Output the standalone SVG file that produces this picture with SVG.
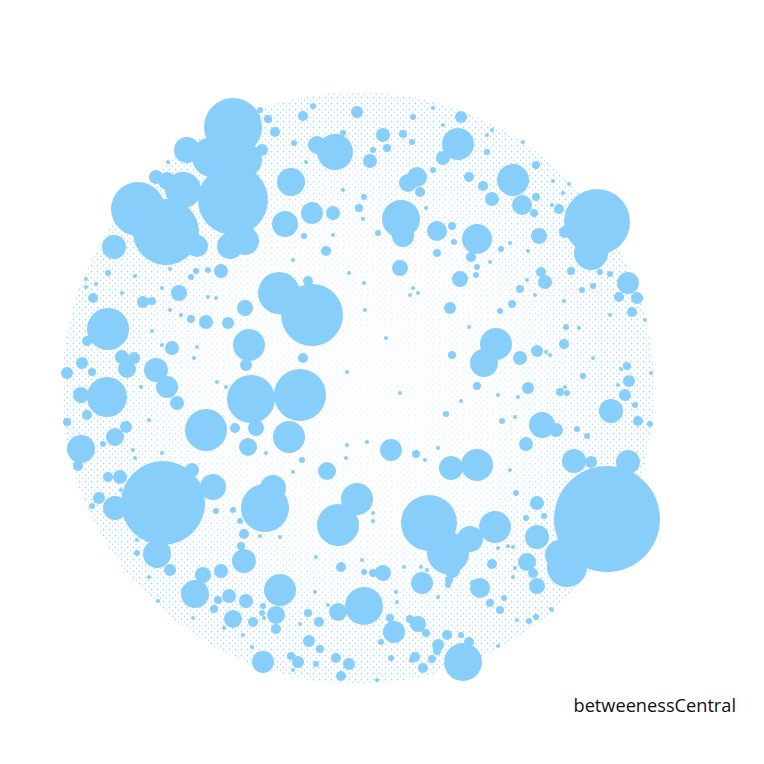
<svg xmlns="http://www.w3.org/2000/svg" width="764" height="764" viewBox="0 0 764 764">
<style>
.n circle{fill:#87CEFA}
.lbl{font-family:"Open Sans","Noto Sans","Liberation Sans",sans-serif;font-size:18.2px;fill:#111}
</style>
<defs>
<pattern id="dust" width="6" height="6" patternUnits="userSpaceOnUse">
<circle cx="1.5" cy="1.5" r="0.9" fill="#87CEFA"/>
<circle cx="4.5" cy="4.3" r="0.7" fill="#87CEFA"/>
</pattern>
<radialGradient id="fade" cx="0.5" cy="0.5" r="0.5">
<stop offset="0" stop-color="#fff" stop-opacity="0.8"/>
<stop offset="0.5" stop-color="#fff" stop-opacity="0.6"/>
<stop offset="0.85" stop-color="#fff" stop-opacity="0.1"/>
<stop offset="1" stop-color="#fff" stop-opacity="0"/>
</radialGradient>
</defs>
<rect width="764" height="764" fill="#fff"/>
<g id="background">
<circle cx="358" cy="388" r="296" fill="url(#dust)" opacity="0.75"/>
<circle cx="358" cy="388" r="297" fill="url(#fade)"/>
</g>
<g id="nodes" class="n">
<g id="n1"><circle cx="233" cy="127" r="29"/></g>
<g id="n2"><circle cx="187" cy="150" r="13"/></g>
<g id="n3"><circle cx="212" cy="157" r="20"/></g>
<g id="n4"><circle cx="245" cy="160" r="17"/></g>
<g id="n5"><circle cx="262" cy="150" r="6"/></g>
<g id="n6"><circle cx="233" cy="200" r="35"/></g>
<g id="n7"><circle cx="138" cy="209" r="27"/></g>
<g id="n8"><circle cx="166" cy="232" r="33"/></g>
<g id="n9"><circle cx="183" cy="190" r="18"/></g>
<g id="n10"><circle cx="167" cy="181" r="9"/></g>
<g id="n11"><circle cx="156" cy="177" r="7"/></g>
<g id="n12"><circle cx="114" cy="247" r="12"/></g>
<g id="n13"><circle cx="197" cy="246" r="11"/></g>
<g id="n14"><circle cx="230" cy="246" r="13"/></g>
<g id="n15"><circle cx="245" cy="241" r="14"/></g>
<g id="n16"><circle cx="335" cy="152" r="18"/></g>
<g id="n17"><circle cx="317" cy="145" r="9"/></g>
<g id="n18"><circle cx="291" cy="182" r="14"/></g>
<g id="n19"><circle cx="357" cy="112" r="6"/></g>
<g id="n20"><circle cx="303" cy="116" r="5"/></g>
<g id="n21"><circle cx="268" cy="119" r="4"/></g>
<g id="n22"><circle cx="275" cy="132" r="5"/></g>
<g id="n23"><circle cx="313" cy="106" r="3"/></g>
<g id="n24"><circle cx="370" cy="161" r="7"/></g>
<g id="n25"><circle cx="383" cy="135" r="7"/></g>
<g id="n26"><circle cx="285" cy="224" r="13"/></g>
<g id="n27"><circle cx="312" cy="213" r="11"/></g>
<g id="n28"><circle cx="333" cy="213" r="7"/></g>
<g id="n29"><circle cx="359" cy="208" r="4"/></g>
<g id="n30"><circle cx="364" cy="197" r="3"/></g>
<g id="n31"><circle cx="378" cy="233" r="3"/></g>
<g id="n32"><circle cx="326" cy="251" r="5"/></g>
<g id="n33"><circle cx="304" cy="236" r="3"/></g>
<g id="n34"><circle cx="221" cy="271" r="7"/></g>
<g id="n35"><circle cx="208" cy="270" r="3"/></g>
<g id="n36"><circle cx="196" cy="271" r="3"/></g>
<g id="n37"><circle cx="191" cy="277" r="3"/></g>
<g id="n38"><circle cx="279" cy="293" r="21"/></g>
<g id="n39"><circle cx="312" cy="315" r="31"/></g>
<g id="n40"><circle cx="308" cy="281" r="5"/></g>
<g id="n41"><circle cx="179" cy="293" r="8"/></g>
<g id="n42"><circle cx="108" cy="273" r="3"/></g>
<g id="n43"><circle cx="93" cy="298" r="5"/></g>
<g id="n44"><circle cx="143" cy="302" r="6"/></g>
<g id="n45"><circle cx="152" cy="301" r="4"/></g>
<g id="n46"><circle cx="108" cy="329" r="21"/></g>
<g id="n47"><circle cx="87" cy="341" r="5"/></g>
<g id="n48"><circle cx="67" cy="373" r="6"/></g>
<g id="n49"><circle cx="82" cy="363" r="6"/></g>
<g id="n50"><circle cx="92" cy="372" r="4"/></g>
<g id="n51"><circle cx="122" cy="357" r="7"/></g>
<g id="n52"><circle cx="134" cy="358" r="6"/></g>
<g id="n53"><circle cx="127" cy="369" r="9"/></g>
<g id="n54"><circle cx="156" cy="370" r="12"/></g>
<g id="n55"><circle cx="172" cy="348" r="7"/></g>
<g id="n56"><circle cx="167" cy="387" r="11"/></g>
<g id="n57"><circle cx="107" cy="397" r="20"/></g>
<g id="n58"><circle cx="245" cy="308" r="8"/></g>
<g id="n59"><circle cx="249" cy="345" r="16"/></g>
<g id="n60"><circle cx="246" cy="365" r="6"/></g>
<g id="n61"><circle cx="303" cy="358" r="5"/></g>
<g id="n62"><circle cx="206" cy="322" r="7"/></g>
<g id="n63"><circle cx="228" cy="323" r="6"/></g>
<g id="n64"><circle cx="191" cy="319" r="4"/></g>
<g id="n65"><circle cx="251" cy="399" r="24"/></g>
<g id="n66"><circle cx="300" cy="395" r="26"/></g>
<g id="n67"><circle cx="260" cy="110" r="3"/></g>
<g id="n68"><circle cx="343" cy="133" r="3"/></g>
<g id="n69"><circle cx="461" cy="117" r="6"/></g>
<g id="n70"><circle cx="458" cy="144" r="16"/></g>
<g id="n71"><circle cx="443" cy="158" r="7"/></g>
<g id="n72"><circle cx="373" cy="150" r="3"/></g>
<g id="n73"><circle cx="387" cy="148" r="4"/></g>
<g id="n74"><circle cx="403" cy="134" r="4"/></g>
<g id="n75"><circle cx="413" cy="117" r="3"/></g>
<g id="n76"><circle cx="412" cy="142" r="3"/></g>
<g id="n77"><circle cx="417" cy="177" r="10"/></g>
<g id="n78"><circle cx="408" cy="183" r="9"/></g>
<g id="n79"><circle cx="420" cy="192" r="5"/></g>
<g id="n80"><circle cx="433" cy="170" r="3"/></g>
<g id="n81"><circle cx="401" cy="219" r="19"/></g>
<g id="n82"><circle cx="403" cy="236" r="11"/></g>
<g id="n83"><circle cx="437" cy="231" r="10"/></g>
<g id="n84"><circle cx="452" cy="226" r="4"/></g>
<g id="n85"><circle cx="454" cy="242" r="3"/></g>
<g id="n86"><circle cx="437" cy="253" r="4"/></g>
<g id="n87"><circle cx="477" cy="239" r="15"/></g>
<g id="n88"><circle cx="471" cy="257" r="5"/></g>
<g id="n89"><circle cx="400" cy="268" r="8"/></g>
<g id="n90"><circle cx="460" cy="279" r="8"/></g>
<g id="n91"><circle cx="476" cy="275" r="3"/></g>
<g id="n92"><circle cx="477" cy="267" r="3"/></g>
<g id="n93"><circle cx="450" cy="308" r="6"/></g>
<g id="n94"><circle cx="501" cy="249" r="3"/></g>
<g id="n95"><circle cx="469" cy="177" r="5"/></g>
<g id="n96"><circle cx="483" cy="186" r="5"/></g>
<g id="n97"><circle cx="492" cy="199" r="7"/></g>
<g id="n98"><circle cx="487" cy="152" r="3"/></g>
<g id="n99"><circle cx="513" cy="180" r="16"/></g>
<g id="n100"><circle cx="522" cy="205" r="10"/></g>
<g id="n101"><circle cx="536" cy="197" r="4"/></g>
<g id="n102"><circle cx="534" cy="213" r="4"/></g>
<g id="n103"><circle cx="536" cy="165" r="4"/></g>
<g id="n104"><circle cx="559" cy="209" r="5"/></g>
<g id="n105"><circle cx="597" cy="222" r="33"/></g>
<g id="n106"><circle cx="591" cy="253" r="17"/></g>
<g id="n107"><circle cx="565" cy="232" r="6"/></g>
<g id="n108"><circle cx="539" cy="236" r="8"/></g>
<g id="n109"><circle cx="571" cy="271" r="4"/></g>
<g id="n110"><circle cx="600" cy="272" r="3"/></g>
<g id="n111"><circle cx="610" cy="274" r="3"/></g>
<g id="n112"><circle cx="628" cy="283" r="11"/></g>
<g id="n113"><circle cx="619" cy="297" r="5"/></g>
<g id="n114"><circle cx="637" cy="298" r="6"/></g>
<g id="n115"><circle cx="632" cy="312" r="5"/></g>
<g id="n116"><circle cx="645" cy="320" r="2"/></g>
<g id="n117"><circle cx="593" cy="286" r="3"/></g>
<g id="n118"><circle cx="582" cy="290" r="3"/></g>
<g id="n119"><circle cx="545" cy="282" r="7"/></g>
<g id="n120"><circle cx="541" cy="272" r="5"/></g>
<g id="n121"><circle cx="520" cy="289" r="4"/></g>
<g id="n122"><circle cx="512" cy="304" r="4"/></g>
<g id="n123"><circle cx="535" cy="295" r="2"/></g>
<g id="n124"><circle cx="564" cy="301" r="2"/></g>
<g id="n125"><circle cx="500" cy="311" r="3"/></g>
<g id="n126"><circle cx="496" cy="344" r="16"/></g>
<g id="n127"><circle cx="484" cy="363" r="14"/></g>
<g id="n128"><circle cx="520" cy="358" r="7"/></g>
<g id="n129"><circle cx="537" cy="351" r="6"/></g>
<g id="n130"><circle cx="564" cy="344" r="5"/></g>
<g id="n131"><circle cx="566" cy="327" r="3"/></g>
<g id="n132"><circle cx="452" cy="355" r="4"/></g>
<g id="n133"><circle cx="528" cy="388" r="6"/></g>
<g id="n134"><circle cx="477" cy="386" r="4"/></g>
<g id="n135"><circle cx="627" cy="366" r="4"/></g>
<g id="n136"><circle cx="629" cy="381" r="6"/></g>
<g id="n137"><circle cx="583" cy="376" r="3"/></g>
<g id="n138"><circle cx="651" cy="373" r="2"/></g>
<g id="n139"><circle cx="386" cy="338" r="2"/></g>
<g id="n140"><circle cx="487" cy="135" r="2"/></g>
<g id="n141"><circle cx="443" cy="125" r="2"/></g>
<g id="n142"><circle cx="81" cy="395" r="8"/></g>
<g id="n143"><circle cx="87" cy="415" r="5"/></g>
<g id="n144"><circle cx="177" cy="403" r="7"/></g>
<g id="n145"><circle cx="67" cy="422" r="4"/></g>
<g id="n146"><circle cx="256" cy="428" r="8"/></g>
<g id="n147"><circle cx="206" cy="430" r="21"/></g>
<g id="n148"><circle cx="126" cy="427" r="6"/></g>
<g id="n149"><circle cx="115" cy="437" r="9"/></g>
<g id="n150"><circle cx="103" cy="444" r="3"/></g>
<g id="n151"><circle cx="81" cy="449" r="14"/></g>
<g id="n152"><circle cx="78" cy="466" r="5"/></g>
<g id="n153"><circle cx="235" cy="428" r="5"/></g>
<g id="n154"><circle cx="248" cy="447" r="9"/></g>
<g id="n155"><circle cx="289" cy="437" r="16"/></g>
<g id="n156"><circle cx="302" cy="460" r="3"/></g>
<g id="n157"><circle cx="327" cy="471" r="9"/></g>
<g id="n158"><circle cx="391" cy="450" r="11"/></g>
<g id="n159"><circle cx="163" cy="503" r="42"/></g>
<g id="n160"><circle cx="213" cy="487" r="13"/></g>
<g id="n161"><circle cx="192" cy="470" r="7"/></g>
<g id="n162"><circle cx="157" cy="554" r="14"/></g>
<g id="n163"><circle cx="115" cy="508" r="12"/></g>
<g id="n164"><circle cx="120" cy="477" r="7"/></g>
<g id="n165"><circle cx="108" cy="477" r="5"/></g>
<g id="n166"><circle cx="99" cy="498" r="6"/></g>
<g id="n167"><circle cx="92" cy="506" r="3"/></g>
<g id="n168"><circle cx="137" cy="553" r="3"/></g>
<g id="n169"><circle cx="170" cy="570" r="6"/></g>
<g id="n170"><circle cx="265" cy="508" r="24"/></g>
<g id="n171"><circle cx="273" cy="488" r="13"/></g>
<g id="n172"><circle cx="244" cy="534" r="5"/></g>
<g id="n173"><circle cx="241" cy="546" r="4"/></g>
<g id="n174"><circle cx="244" cy="561" r="12"/></g>
<g id="n175"><circle cx="240" cy="521" r="3"/></g>
<g id="n176"><circle cx="233" cy="510" r="3"/></g>
<g id="n177"><circle cx="216" cy="511" r="3"/></g>
<g id="n178"><circle cx="338" cy="525" r="21"/></g>
<g id="n179"><circle cx="357" cy="499" r="16"/></g>
<g id="n180"><circle cx="341" cy="567" r="5"/></g>
<g id="n181"><circle cx="373" cy="521" r="2"/></g>
<g id="n182"><circle cx="364" cy="572" r="3"/></g>
<g id="n183"><circle cx="383" cy="573" r="8"/></g>
<g id="n184"><circle cx="373" cy="573" r="4"/></g>
<g id="n185"><circle cx="280" cy="590" r="16"/></g>
<g id="n186"><circle cx="276" cy="615" r="9"/></g>
<g id="n187"><circle cx="276" cy="629" r="5"/></g>
<g id="n188"><circle cx="221" cy="571" r="7"/></g>
<g id="n189"><circle cx="203" cy="575" r="8"/></g>
<g id="n190"><circle cx="195" cy="594" r="14"/></g>
<g id="n191"><circle cx="229" cy="596" r="7"/></g>
<g id="n192"><circle cx="218" cy="600" r="4"/></g>
<g id="n193"><circle cx="214" cy="609" r="4"/></g>
<g id="n194"><circle cx="233" cy="619" r="9"/></g>
<g id="n195"><circle cx="246" cy="601" r="7"/></g>
<g id="n196"><circle cx="253" cy="622" r="5"/></g>
<g id="n197"><circle cx="263" cy="606" r="3"/></g>
<g id="n198"><circle cx="262" cy="613" r="3"/></g>
<g id="n199"><circle cx="264" cy="618" r="2"/></g>
<g id="n200"><circle cx="263" cy="662" r="11"/></g>
<g id="n201"><circle cx="309" cy="641" r="6"/></g>
<g id="n202"><circle cx="320" cy="649" r="4"/></g>
<g id="n203"><circle cx="308" cy="613" r="4"/></g>
<g id="n204"><circle cx="319" cy="622" r="5"/></g>
<g id="n205"><circle cx="298" cy="662" r="6"/></g>
<g id="n206"><circle cx="291" cy="656" r="4"/></g>
<g id="n207"><circle cx="316" cy="664" r="3"/></g>
<g id="n208"><circle cx="336" cy="658" r="5"/></g>
<g id="n209"><circle cx="349" cy="664" r="6"/></g>
<g id="n210"><circle cx="341" cy="676" r="5"/></g>
<g id="n211"><circle cx="338" cy="612" r="9"/></g>
<g id="n212"><circle cx="364" cy="606" r="19"/></g>
<g id="n213"><circle cx="394" cy="632" r="11"/></g>
<g id="n214"><circle cx="381" cy="642" r="3"/></g>
<g id="n215"><circle cx="377" cy="680" r="2"/></g>
<g id="n216"><circle cx="315" cy="592" r="2"/></g>
<g id="n217"><circle cx="293" cy="472" r="2"/></g>
<g id="n218"><circle cx="266" cy="453" r="2"/></g>
<g id="n219"><circle cx="280" cy="537" r="2"/></g>
<g id="n220"><circle cx="260" cy="536" r="2"/></g>
<g id="n221"><circle cx="560" cy="392" r="4"/></g>
<g id="n222"><circle cx="567" cy="393" r="3"/></g>
<g id="n223"><circle cx="416" cy="454" r="4"/></g>
<g id="n224"><circle cx="451" cy="468" r="12"/></g>
<g id="n225"><circle cx="477" cy="465" r="16"/></g>
<g id="n226"><circle cx="446" cy="414" r="3"/></g>
<g id="n227"><circle cx="502" cy="421" r="3"/></g>
<g id="n228"><circle cx="526" cy="444" r="7"/></g>
<g id="n229"><circle cx="542" cy="425" r="13"/></g>
<g id="n230"><circle cx="556" cy="430" r="7"/></g>
<g id="n231"><circle cx="611" cy="411" r="12"/></g>
<g id="n232"><circle cx="625" cy="395" r="6"/></g>
<g id="n233"><circle cx="635" cy="405" r="3"/></g>
<g id="n234"><circle cx="638" cy="421" r="5"/></g>
<g id="n235"><circle cx="650" cy="424" r="3"/></g>
<g id="n236"><circle cx="587" cy="436" r="3"/></g>
<g id="n237"><circle cx="577" cy="429" r="3"/></g>
<g id="n238"><circle cx="574" cy="461" r="12"/></g>
<g id="n239"><circle cx="591" cy="462" r="6"/></g>
<g id="n240"><circle cx="628" cy="462" r="12"/></g>
<g id="n241"><circle cx="607" cy="519" r="53"/></g>
<g id="n242"><circle cx="567" cy="567" r="20"/></g>
<g id="n243"><circle cx="560" cy="555" r="15"/></g>
<g id="n244"><circle cx="429" cy="523" r="28"/></g>
<g id="n245"><circle cx="448" cy="553" r="21"/></g>
<g id="n246"><circle cx="470" cy="539" r="13"/></g>
<g id="n247"><circle cx="495" cy="527" r="16"/></g>
<g id="n248"><circle cx="452" cy="570" r="8"/></g>
<g id="n249"><circle cx="449" cy="580" r="4"/></g>
<g id="n250"><circle cx="448" cy="585" r="3"/></g>
<g id="n251"><circle cx="537" cy="537" r="12"/></g>
<g id="n252"><circle cx="527" cy="562" r="9"/></g>
<g id="n253"><circle cx="533" cy="573" r="5"/></g>
<g id="n254"><circle cx="537" cy="586" r="8"/></g>
<g id="n255"><circle cx="537" cy="503" r="7"/></g>
<g id="n256"><circle cx="544" cy="516" r="3"/></g>
<g id="n257"><circle cx="526" cy="518" r="3"/></g>
<g id="n258"><circle cx="516" cy="493" r="3"/></g>
<g id="n259"><circle cx="422" cy="583" r="11"/></g>
<g id="n260"><circle cx="492" cy="564" r="5"/></g>
<g id="n261"><circle cx="480" cy="588" r="10"/></g>
<g id="n262"><circle cx="473" cy="583" r="3"/></g>
<g id="n263"><circle cx="490" cy="603" r="4"/></g>
<g id="n264"><circle cx="500" cy="610" r="4"/></g>
<g id="n265"><circle cx="504" cy="598" r="3"/></g>
<g id="n266"><circle cx="463" cy="662" r="19"/></g>
<g id="n267"><circle cx="469" cy="642" r="5"/></g>
<g id="n268"><circle cx="390" cy="618" r="4"/></g>
<g id="n269"><circle cx="418" cy="624" r="8"/></g>
<g id="n270"><circle cx="410" cy="619" r="4"/></g>
<g id="n271"><circle cx="426" cy="633" r="4"/></g>
<g id="n272"><circle cx="447" cy="635" r="5"/></g>
<g id="n273"><circle cx="438" cy="645" r="6"/></g>
<g id="n274"><circle cx="437" cy="651" r="4"/></g>
<g id="n275"><circle cx="461" cy="635" r="3"/></g>
<g id="n276"><circle cx="432" cy="659" r="4"/></g>
<g id="n277"><circle cx="423" cy="668" r="5"/></g>
<g id="n278"><circle cx="415" cy="657" r="5"/></g>
<g id="n279"><circle cx="412" cy="660" r="3"/></g>
<g id="n280"><circle cx="391" cy="658" r="3"/></g>
<g id="n281"><circle cx="536" cy="617" r="3"/></g>
<g id="n282"><circle cx="529" cy="621" r="3"/></g>
<g id="n283"><circle cx="551" cy="609" r="2"/></g>
<g id="n284"><circle cx="498" cy="646" r="2"/></g>
<g id="n285"><circle cx="363" cy="219" r="2"/></g>
<g id="n286"><circle cx="293" cy="260" r="2"/></g>
<g id="n287"><circle cx="306" cy="162" r="2"/></g>
<g id="n288"><circle cx="294" cy="143" r="3"/></g>
<g id="n289"><circle cx="168" cy="162" r="2"/></g>
<g id="n290"><circle cx="170" cy="269" r="2"/></g>
<g id="n291"><circle cx="162" cy="288" r="2"/></g>
<g id="n292"><circle cx="181" cy="315" r="2"/></g>
<g id="n293"><circle cx="197" cy="347" r="2"/></g>
<g id="n294"><circle cx="86" cy="279" r="2"/></g>
<g id="n295"><circle cx="86" cy="287" r="2"/></g>
<g id="n296"><circle cx="96" cy="284" r="2"/></g>
<g id="n297"><circle cx="122" cy="293" r="2"/></g>
<g id="n298"><circle cx="135" cy="276" r="2"/></g>
<g id="n299"><circle cx="170" cy="310" r="2"/></g>
<g id="n300"><circle cx="208" cy="297" r="2"/></g>
<g id="n301"><circle cx="216" cy="298" r="2"/></g>
<g id="n302"><circle cx="194" cy="358" r="2"/></g>
<g id="n303"><circle cx="217" cy="382" r="2"/></g>
<g id="n304"><circle cx="226" cy="387" r="2"/></g>
<g id="n305"><circle cx="152" cy="331" r="2"/></g>
<g id="n306"><circle cx="162" cy="345" r="2"/></g>
<g id="n307"><circle cx="333" cy="235" r="2"/></g>
<g id="n308"><circle cx="343" cy="190" r="2"/></g>
<g id="n309"><circle cx="349" cy="273" r="2"/></g>
<g id="n310"><circle cx="365" cy="310" r="2"/></g>
<g id="n311"><circle cx="347" cy="372" r="2"/></g>
<g id="n312"><circle cx="364" cy="283" r="2"/></g>
<g id="n313"><circle cx="433" cy="108" r="2"/></g>
<g id="n314"><circle cx="492" cy="130" r="2"/></g>
<g id="n315"><circle cx="523" cy="142" r="2"/></g>
<g id="n316"><circle cx="553" cy="181" r="2"/></g>
<g id="n317"><circle cx="569" cy="184" r="2"/></g>
<g id="n318"><circle cx="552" cy="205" r="2"/></g>
<g id="n319"><circle cx="563" cy="193" r="2"/></g>
<g id="n320"><circle cx="510" cy="243" r="2"/></g>
<g id="n321"><circle cx="528" cy="251" r="2"/></g>
<g id="n322"><circle cx="490" cy="262" r="2"/></g>
<g id="n323"><circle cx="527" cy="280" r="2"/></g>
<g id="n324"><circle cx="413" cy="288" r="2"/></g>
<g id="n325"><circle cx="418" cy="293" r="2"/></g>
<g id="n326"><circle cx="410" cy="295" r="2"/></g>
<g id="n327"><circle cx="426" cy="208" r="2"/></g>
<g id="n328"><circle cx="469" cy="327" r="2"/></g>
<g id="n329"><circle cx="546" cy="352" r="2"/></g>
<g id="n330"><circle cx="550" cy="355" r="2"/></g>
<g id="n331"><circle cx="579" cy="328" r="2"/></g>
<g id="n332"><circle cx="593" cy="358" r="2"/></g>
<g id="n333"><circle cx="610" cy="315" r="2"/></g>
<g id="n334"><circle cx="621" cy="369" r="2"/></g>
<g id="n335"><circle cx="618" cy="385" r="2"/></g>
<g id="n336"><circle cx="565" cy="387" r="2"/></g>
<g id="n337"><circle cx="141" cy="387" r="2"/></g>
<g id="n338"><circle cx="149" cy="420" r="2"/></g>
<g id="n339"><circle cx="133" cy="450" r="2"/></g>
<g id="n340"><circle cx="135" cy="458" r="2"/></g>
<g id="n341"><circle cx="162" cy="453" r="2"/></g>
<g id="n342"><circle cx="121" cy="490" r="2"/></g>
<g id="n343"><circle cx="137" cy="540" r="2"/></g>
<g id="n344"><circle cx="149" cy="577" r="2"/></g>
<g id="n345"><circle cx="158" cy="601" r="2"/></g>
<g id="n346"><circle cx="187" cy="595" r="2"/></g>
<g id="n347"><circle cx="193" cy="618" r="2"/></g>
<g id="n348"><circle cx="224" cy="628" r="2"/></g>
<g id="n349"><circle cx="243" cy="635" r="2"/></g>
<g id="n350"><circle cx="252" cy="647" r="2"/></g>
<g id="n351"><circle cx="300" cy="624" r="2"/></g>
<g id="n352"><circle cx="293" cy="670" r="2"/></g>
<g id="n353"><circle cx="328" cy="605" r="2"/></g>
<g id="n354"><circle cx="347" cy="445" r="2"/></g>
<g id="n355"><circle cx="346" cy="458" r="2"/></g>
<g id="n356"><circle cx="367" cy="442" r="2"/></g>
<g id="n357"><circle cx="362" cy="560" r="2"/></g>
<g id="n358"><circle cx="373" cy="513" r="2"/></g>
<g id="n359"><circle cx="316" cy="557" r="2"/></g>
<g id="n360"><circle cx="400" cy="393" r="2"/></g>
<g id="n361"><circle cx="461" cy="401" r="2"/></g>
<g id="n362"><circle cx="498" cy="395" r="2"/></g>
<g id="n363"><circle cx="518" cy="397" r="2"/></g>
<g id="n364"><circle cx="515" cy="417" r="2"/></g>
<g id="n365"><circle cx="438" cy="448" r="2"/></g>
<g id="n366"><circle cx="425" cy="460" r="2"/></g>
<g id="n367"><circle cx="510" cy="470" r="2"/></g>
<g id="n368"><circle cx="498" cy="548" r="2"/></g>
<g id="n369"><circle cx="508" cy="546" r="2"/></g>
<g id="n370"><circle cx="513" cy="547" r="2"/></g>
<g id="n371"><circle cx="404" cy="567" r="2"/></g>
<g id="n372"><circle cx="421" cy="567" r="2"/></g>
<g id="n373"><circle cx="427" cy="570" r="2"/></g>
<g id="n374"><circle cx="438" cy="597" r="2"/></g>
<g id="n375"><circle cx="396" cy="592" r="2"/></g>
<g id="n376"><circle cx="397" cy="602" r="2"/></g>
<g id="n377"><circle cx="517" cy="620" r="2"/></g>
<g id="n378"><circle cx="552" cy="610" r="2"/></g>
<g id="n379"><circle cx="513" cy="577" r="2"/></g>
<g id="n380"><circle cx="515" cy="568" r="2"/></g>
</g>
<text class="lbl" x="736" y="712" text-anchor="end">betweenessCentral</text>
</svg>
